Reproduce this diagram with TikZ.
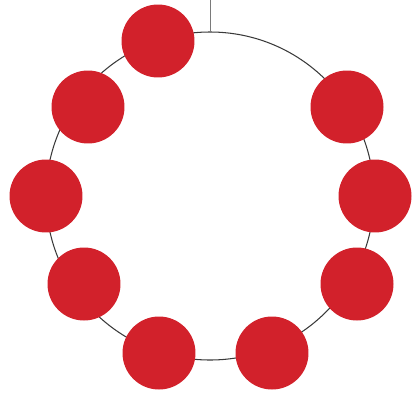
\documentclass[tikz,border=0pt]{standalone}
\usepackage{xcolor}
\usetikzlibrary{positioning}

\definecolor{dotred}{HTML}{D2212B}
\definecolor{ringgray}{HTML}{3A3A3A}
\definecolor{leadgray}{HTML}{7A7A7A}

\tikzset{
	bead/.style={circle, fill=dotred, inner sep=0pt, minimum size=1.46cm},
	ring/.style={ringgray, line width=0.6pt}
}

\begin{document}
\begin{tikzpicture}[x=0.02cm, y=-0.02cm]
		\useasboundingbox (0,0) rectangle (415,396);
		
		% ring and lead
		\coordinate (centre) at (210,196);
		\coordinate (lead) at (210,0);
		\coordinate (ringtop) at (210,32);
		\draw[ring] (centre) circle (164);
		\draw[leadgray, line width=0.5pt] (lead) -- (ringtop);
		
		% beads
		\node[bead] (d1) at (158,41) {};
		\node[bead] (d2) at (88,107) {};
		\node[bead] (d3) at (46,196) {};
		\node[bead] (d4) at (84,284) {};
		\node[bead] (d5) at (159,353) {};
		\node[bead] (d6) at (272,353) {};
		\node[bead] (d7) at (357,284) {};
		\node[bead] (d8) at (375,196) {};
		\node[bead] (d9) at (347,107) {};
	\end{tikzpicture}
\end{document}
